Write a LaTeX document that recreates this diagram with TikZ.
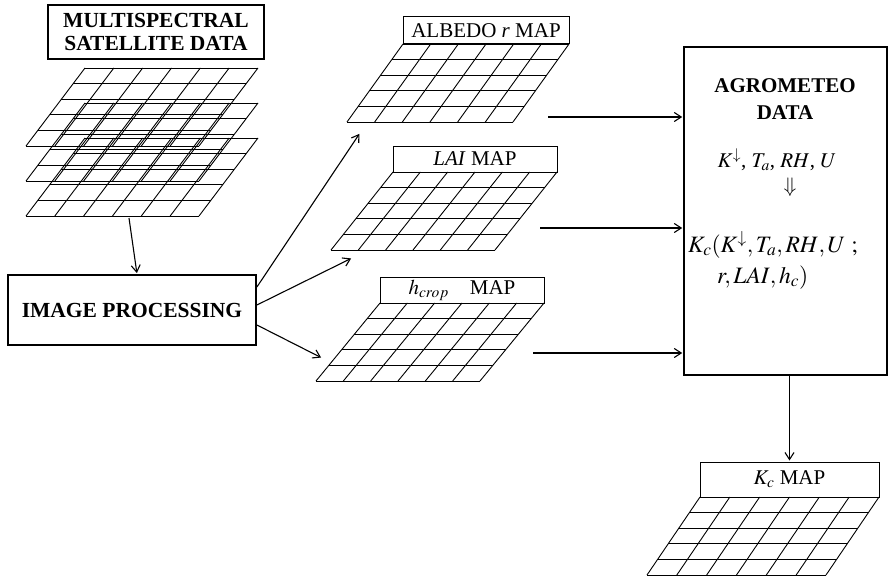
\documentclass[tikz,border=0pt]{standalone}
\usepackage{mathptmx}
\usepackage[no-math]{fontspec}
\setmainfont{Liberation Serif}
\usetikzlibrary{arrows,arrows.meta,positioning}

% grid of a map: top-left x, top-left y, width, shear
\newcommand{\mapgrid}[4]{%
  \foreach \gr in {0,...,5}
    \draw[gridline] ({#1-#4*\gr/5},{#2+15.6*\gr}) -- ++(#3,0);
  \foreach \gc in {0,...,6}
    \draw[gridline] ({#1+#3*\gc/6},#2) -- ++(-#4,78);
}

\begin{document}
\begin{tikzpicture}[
    x=1pt, y=-1pt,
    font=\fontsize{21}{24}\selectfont,
    titlebox/.style={rectangle, draw, line width=1.8pt, align=center,
                     font=\fontsize{21.5}{23}\selectfont\bfseries, inner sep=0pt},
    labelbox/.style={rectangle, draw, line width=1pt, minimum width=164pt,
                     minimum height=26pt, inner sep=0pt},
    gridline/.style={line width=0.9pt},
    arr/.style={-{Straight Barb[length=7pt,width=9pt]}, line width=1.1pt, shorten >=1pt}
]
\useasboundingbox (0,0) rectangle (889,578);

%% input data and processing
\node[titlebox, minimum width=216pt, minimum height=54pt] (sat) at (156,32)
     {MULTISPECTRAL\\SATELLITE DATA};
\mapgrid{85}{68}{173}{59}
\mapgrid{85}{103}{173}{59}
\mapgrid{85}{138}{173}{59}
\coordinate (satout) at (129,218);

\node[titlebox, minimum width=248pt, minimum height=70pt] (proc) at (132,310)
     {IMAGE PROCESSING};

%% derived maps
\node[labelbox, minimum width=166pt, minimum height=27pt] (albedolbl) at (486,30.5)
     {ALBEDO \textit{r} MAP};
\mapgrid{403}{44}{166}{56}
\node[labelbox] (lailbl) at (475,159) {\textit{LAI} MAP};
\mapgrid{393}{172}{164}{62}
\node[labelbox] (hcroplbl) at (462,290) {$h_{crop}$\quad MAP};
\mapgrid{380}{303}{164}{64}

\coordinate (toalb)    at (360,133);
\coordinate (tolai)    at (352,258);
\coordinate (tohcrop)  at (322,358);
\coordinate (albout)   at (548,117);
\coordinate (laiout)   at (540,228);
\coordinate (hcropout) at (533,353);

%% agrometeo block
\node[draw, line width=1.5pt, minimum width=203pt, minimum height=328pt] (agro) at (785.5,211) {};
\node[align=center, font=\fontsize{21}{27}\selectfont\bfseries] (agrotitle) at (785,99)
     {AGROMETEO\\DATA};
\node[font=\fontsize{21}{24}\selectfont] (vars) at (777,160) {$K^{\downarrow}$, $T_a$, $RH$, $U$};
\node (impl) at (790,187) {$\Downarrow$};
\node[anchor=base west, inner sep=0pt, align=left, font=\fontsize{23.5}{31}\selectfont] (kcfun) at (688,283)
     {$K_c(K^{\downarrow},T_a,RH,U\ ;$\\\hspace*{29pt}$r,LAI,h_c)$};

%% result map
\node[labelbox, minimum width=179pt, minimum height=35pt] (kclbl) at (789.5,479.5) {$K_c$ MAP};
\mapgrid{700}{497}{179}{53}

%% connectors
\draw[arr] (satout) -- ([xshift=5pt]proc.north);
\draw[arr] ([yshift=23pt]proc.east)  -- (toalb);
\draw[arr] ([yshift=5pt]proc.east)   -- (tolai);
\draw[arr] ([yshift=-15pt]proc.east) -- (tohcrop);
\draw[arr] (albout)   -- (albout -| agro.west);
\draw[arr] (laiout)   -- (laiout -| agro.west);
\draw[arr] (hcropout) -- (hcropout -| agro.west);
\draw[arr] (agro.south -| kclbl.north) -- (kclbl.north);

\end{tikzpicture}
\end{document}
